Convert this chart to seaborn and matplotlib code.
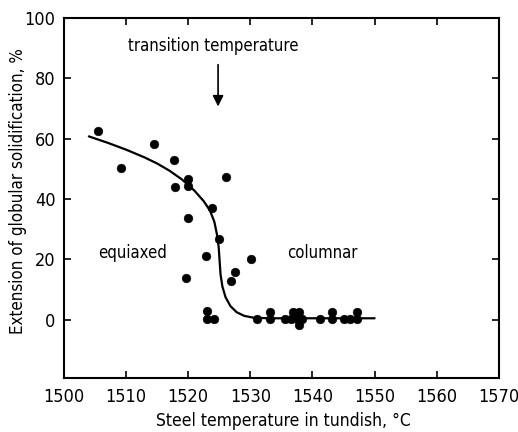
import matplotlib
matplotlib.use("Agg")
import matplotlib.pyplot as plt
import seaborn as sns
import pandas as pd

# measured points: steel temperature (°C) and extension of globular solidification (%)
temp = [1505.5, 1509.2, 1514.5, 1517.7, 1517.9, 1519.9, 1519.9, 1519.9, 1519.7,
        1523.8, 1525.0, 1526.0, 1522.9, 1530.1, 1527.6, 1526.9,
        1523.0, 1523.0, 1524.1, 1531.0, 1533.2, 1533.2, 1535.6, 1536.6, 1536.9,
        1537.5, 1537.9, 1537.9, 1538.3, 1541.2, 1543.2, 1543.2, 1545.0, 1546.1,
        1547.2, 1547.2]
extent = [62.5, 50.3, 58.3, 53.0, 44.0, 46.7, 44.4, 33.6, 14.0,
          37.2, 26.7, 47.5, 21.3, 20.2, 15.8, 13.0,
          2.8, 0.3, 0.3, 0.3, 0.3, 2.7, 0.3, 0.3, 2.7,
          0.3, 2.7, -1.7, 0.3, 0.3, 0.3, 2.7, 0.3, 0.3,
          0.3, 2.7]

# fitted curve
curve_t = [1504.0, 1507.0, 1510.0, 1513.0, 1515.0, 1517.0, 1519.0, 1521.0, 1522.5,
           1523.5, 1524.2, 1524.6, 1524.9, 1525.05, 1525.2, 1525.5, 1526.0, 1526.8,
           1527.8, 1529.0, 1530.5, 1533.0, 1540.0, 1550.0]
curve_e = [60.8, 58.7, 56.4, 53.8, 51.8, 49.4, 46.5, 42.8, 39.3,
           36.2, 32.5, 28.5, 24.0, 19.5, 15.0, 11.0, 7.5, 4.5,
           2.5, 1.3, 0.7, 0.5, 0.5, 0.5]

xticks = [1500, 1510, 1520, 1530, 1540, 1550, 1560, 1570]
yticks = [0, 20, 40, 60, 80, 100]

sns.set_theme(style="ticks")
plt.rcParams['font.family'] = ['DejaVu Sans']
plt.rcParams['font.stretch'] = 'condensed'
plt.rcParams['axes.labelcolor'] = 'black'
plt.rcParams['text.color'] = 'black'

pts = pd.DataFrame({"t": temp, "e": extent})
crv = pd.DataFrame({"t": curve_t, "e": curve_e})

fig = plt.figure(figsize=(5.18, 4.32), dpi=100)
ax = fig.add_axes([0.1236, 0.125, 0.8394, 0.833])

sns.lineplot(data=crv, x="t", y="e", ax=ax, color="black", linewidth=1.6,
             sort=False, estimator=None)
sns.scatterplot(data=pts, x="t", y="e", ax=ax, color="black", s=40,
                edgecolor="black", linewidth=0.3, zorder=3)

ax.set_xlim(1500, 1570)
ax.set_ylim(-19.3, 100)
ax.set_xticks(xticks)
ax.set_yticks(yticks)
ax.tick_params(direction="in", top=True, right=True, length=5, width=1.2,
               labelsize=13, colors="black")
ax.tick_params(axis="x", pad=7)
ax.tick_params(axis="y", pad=6)
for s in ax.spines.values():
    s.set_linewidth(1.5)
    s.set_color("black")

ax.set_xlabel("Steel temperature in tundish, °C", fontsize=12.5)
ax.set_ylabel("Extension of globular solidification, %", fontsize=12.2)
ax.xaxis.set_label_coords(0.505, -0.119)
ax.yaxis.set_label_coords(-0.106, 0.52)
ax.xaxis.label.set_va("center")
ax.yaxis.label.set_va("center")

ax.text(1524.0, 90.7, "transition temperature", ha="center", va="center", fontsize=12)
ax.annotate("", xy=(1524.8, 69.8), xytext=(1524.8, 85.5),
            arrowprops=dict(arrowstyle="-|>", color="black", lw=1.2,
                            mutation_scale=16))
ax.text(1511.1, 22.3, "equiaxed", ha="center", va="center", fontsize=12)
ax.text(1541.6, 22.3, "columnar", ha="center", va="center", fontsize=12)

fig.savefig("out.png", dpi=100)
